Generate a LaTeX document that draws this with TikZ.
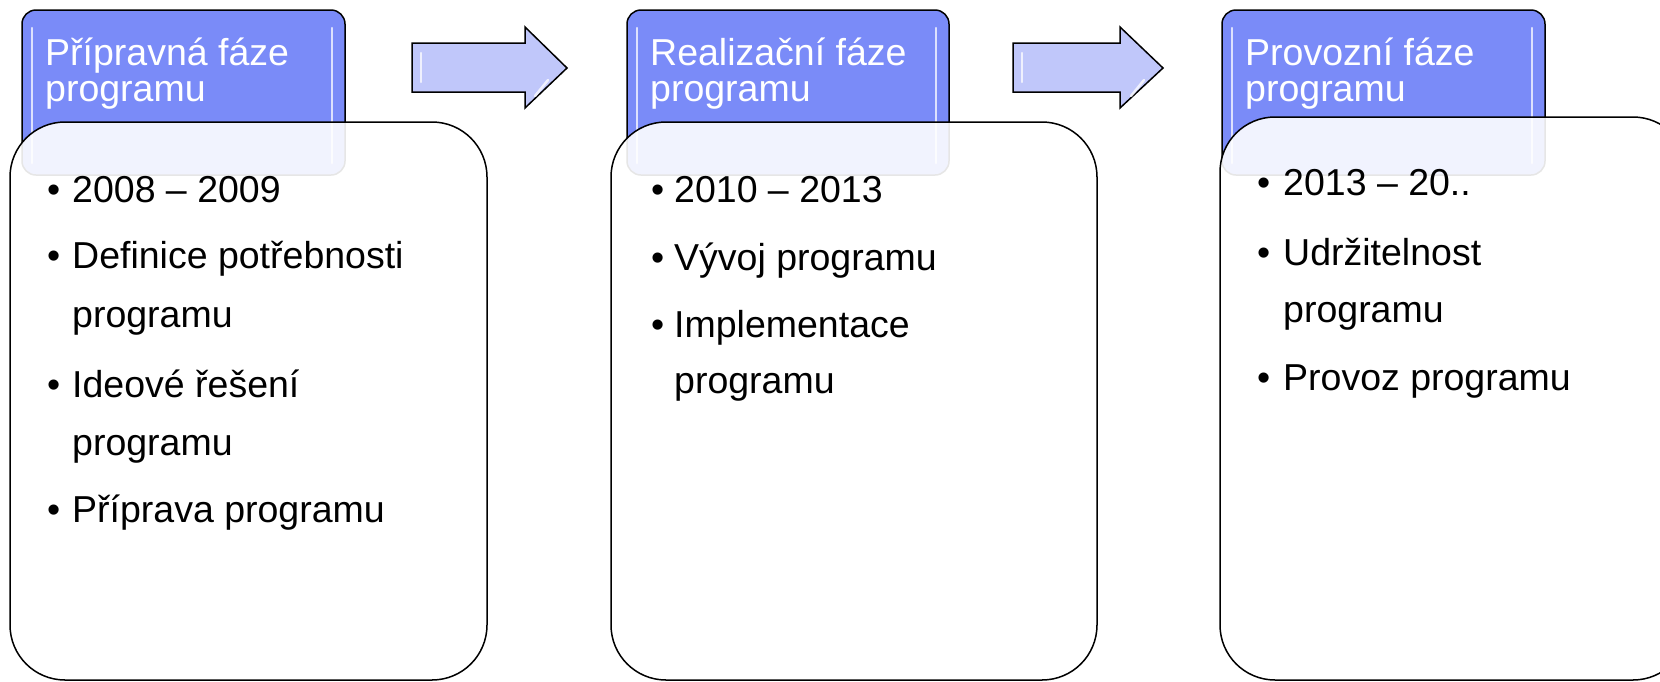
\documentclass[tikz,border=0pt]{standalone}
\usepackage{fontspec}
\setmainfont{Liberation Sans}
\definecolor{hdrblue}{RGB}{122,139,248}
\definecolor{arrblue}{RGB}{192,199,250}
\tikzset{
  hdr/.style={draw=black, line width=1.5pt, fill=hdrblue, rounded corners=14pt},
  card/.style={draw=black, line width=1.5pt, fill=white, fill opacity=0.9, rounded corners=55pt},
  blockarrow/.style={draw=black, line width=1.5pt, fill=arrblue, line join=miter},
  shine/.style={white, line width=2.5pt, opacity=0.75, line cap=round},
  title/.style={anchor=base west, inner sep=0pt, text=white, font=\fontsize{37.5}{45}\selectfont},
  item/.style={anchor=base west, inner sep=0pt, font=\fontsize{37.5}{45}\selectfont},
}
\begin{document}
\begin{tikzpicture}[x=1pt,y=-1pt]
	\clip (0,0) rectangle (1660,681);
	\fill [white] (0,0) rectangle (1660,681);
	% arrows between the phases
	\draw [blockarrow] (412,43) -- (525,43) -- (525,27) -- (567,68) -- (525,108) -- (525,92) -- (412,92) -- cycle;
	\draw [shine] (421,53) -- (421,82);
	\draw [shine] (548,80) -- (535,96);
	\draw [blockarrow] (1013,43) -- (1120,43) -- (1120,27) -- (1163,68) -- (1120,108) -- (1120,92) -- (1013,92) -- cycle;
	\draw [shine] (1022,53) -- (1022,82);
	\draw [shine] (1144,80) -- (1131,96);
	% phase 1
	\draw [hdr] (22,10) rectangle (345,175);
	\draw [shine] (32,28) -- (32,163);
	\draw [shine] (332,28) -- (332,163);
	\node [title] (hd1) at (45,65) {Přípravná fáze};
	\node [title] (hd1b) at (45,101) {programu};
	\draw [card] (10,122) rectangle (487,680);
	\node [item] (b1a) at (47,202) {•};
	\node [item] (i1a) at (72,202) {2008 – 2009};
	\node [item] (b1b) at (47,268) {•};
	\node [item] (i1b) at (72,268) {Definice potřebnosti};
	\node [item] (i1b2) at (72,327) {programu};
	\node [item] (b1c) at (47,397) {•};
	\node [item] (i1c) at (72,397) {Ideové řešení};
	\node [item] (i1c2) at (72,455) {programu};
	\node [item] (b1d) at (47,522) {•};
	\node [item] (i1d) at (72,522) {Příprava programu};
	% phase 2
	\draw [hdr] (627,10) rectangle (949,175);
	\draw [shine] (637,28) -- (637,163);
	\draw [shine] (936,28) -- (936,163);
	\node [title] (hd2) at (650,65) {Realizační fáze};
	\node [title] (hd2b) at (650,101) {programu};
	\draw [card] (611,122) rectangle (1097,680);
	\node [item] (b2a) at (651,202) {•};
	\node [item] (i2a) at (674,202) {2010 – 2013};
	\node [item] (b2b) at (651,270) {•};
	\node [item] (i2b) at (674,270) {Vývoj programu};
	\node [item] (b2c) at (651,337) {•};
	\node [item] (i2c) at (674,337) {Implementace};
	\node [item] (i2c2) at (674,393) {programu};
	% phase 3
	\draw [hdr] (1222,10) rectangle (1545,175);
	\draw [shine] (1232,28) -- (1232,163);
	\draw [shine] (1532,28) -- (1532,163);
	\node [title] (hd3) at (1245,65) {Provozní fáze};
	\node [title] (hd3b) at (1245,101) {programu};
	\draw [card] (1220,117) rectangle (1688,680);
	\node [item] (b3a) at (1257,195) {•};
	\node [item] (i3a) at (1283,195) {2013 – 20..};
	\node [item] (b3b) at (1257,265) {•};
	\node [item] (i3b) at (1283,265) {Udržitelnost};
	\node [item] (i3b2) at (1283,322) {programu};
	\node [item] (b3c) at (1257,390) {•};
	\node [item] (i3c) at (1283,390) {Provoz programu};
\end{tikzpicture}
\end{document}
